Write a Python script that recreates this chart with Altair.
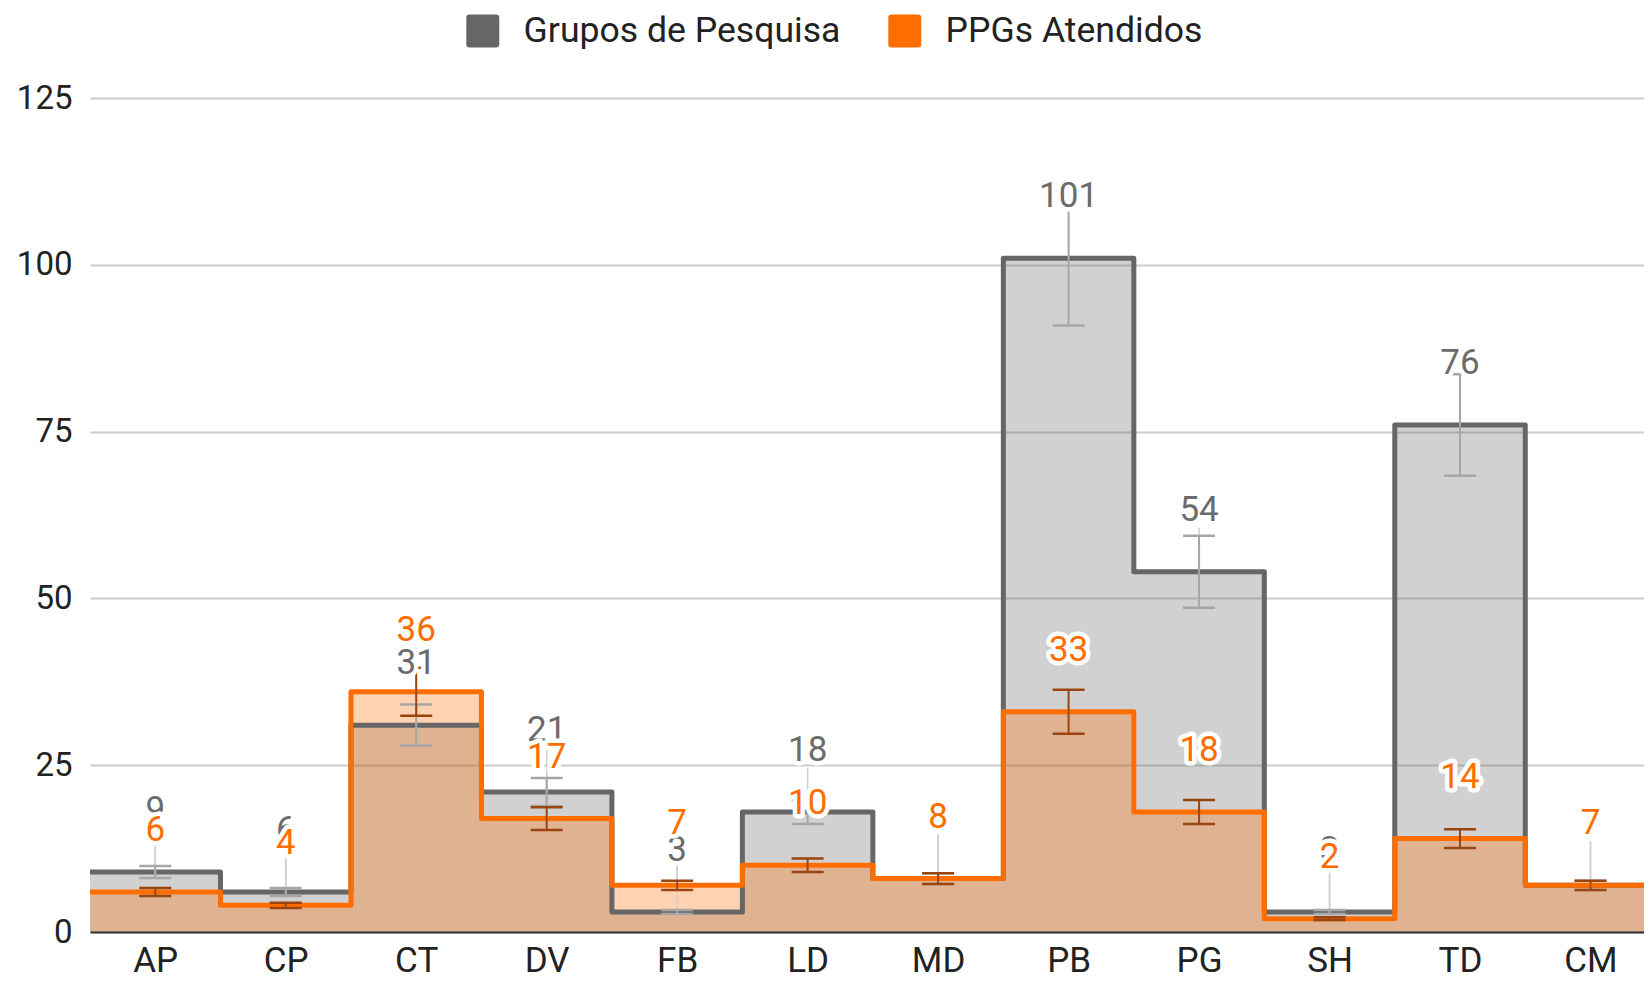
import json
import altair as alt
import pandas as pd

# ---- data ----
categories = ["AP", "CP", "CT", "DV", "FB", "LD", "MD", "PB", "PG", "SH", "TD", "CM"]
grupos = [9, 6, 31, 21, 3, 18, 8, 101, 54, 3, 76, 7]
grupos_low = [8.1, 5.4, 27.9, 18.9, 2.7, 16.2, 7.2, 90.9, 48.6, 2.7, 68.4, 6.3]
grupos_high = [9.9, 6.6, 34.1, 23.1, 3.3, 19.8, 8.8, 111.1, 59.4, 3.3, 83.6, 7.7]
ppgs = [6, 4, 36, 17, 7, 10, 8, 33, 18, 2, 14, 7]
ppgs_low = [5.4, 3.6, 32.4, 15.3, 6.3, 9.0, 7.2, 29.7, 16.2, 1.8, 12.6, 6.3]
ppgs_high = [6.6, 4.4, 39.6, 18.7, 7.7, 11.0, 8.8, 36.3, 19.8, 2.2, 15.4, 7.7]
series_names = ["Grupos de Pesquisa", "PPGs Atendidos"]
y_ticks = [0, 25, 50, 75, 100, 125]
x_visible_max = 11.91  # the last band is cut off at the right edge in the reference

GRAY = "#666666"
ORANGE = "#FF6D00"
FONT = "Roboto"
n = len(categories)

# per-category table (points at band centres)
cat_df = pd.DataFrame({
    "cat": categories,
    "xc": [i + 0.5 for i in range(n)],
    "gv": grupos, "glo": grupos_low, "ghi": grupos_high,
    "ov": ppgs, "olo": ppgs_low, "ohi": ppgs_high,
})

# step table (band edges, last value repeated at the right edge)
step_df = pd.DataFrame({
    "x": list(range(n + 1)),
    "gv": grupos + [grupos[-1]],
    "ov": ppgs + [ppgs[-1]],
})

x_scale = alt.Scale(domain=[0, x_visible_max], nice=False, zero=False)
y_scale = alt.Scale(domain=[0, 125], nice=False)

label_expr = json.dumps(categories) + "[floor(datum.value)]"
x_axis = alt.Axis(values=[i + 0.5 for i in range(n)], labelExpr=label_expr,
                  grid=False, ticks=False, domain=True, domainColor="#333333",
                  domainWidth=2, labelFontSize=35, labelFont=FONT, labelColor="#222222",
                  labelPadding=11, labelFlush=False, labelOverlap=False, title=None,
                  zindex=1)
y_axis = alt.Axis(values=y_ticks, grid=True, gridColor="#cccccc", gridWidth=2,
                  ticks=False, domain=False, labelFontSize=33, labelFont=FONT,
                  labelColor="#222222", labelPadding=18, title=None, zindex=0)


def X(field):
    return alt.X(field, type="quantitative", scale=x_scale, axis=x_axis)


def Y(field):
    return alt.Y(field, type="quantitative", scale=y_scale, axis=y_axis, stack=None)


step = alt.Chart(step_df)
cats = alt.Chart(cat_df)

gray_area = step.mark_area(interpolate="step-after", color=GRAY, fillOpacity=0.3,
                           clip=True).encode(x=X("x"), y=Y("gv"))
orange_area = step.mark_area(interpolate="step-after", color=ORANGE, fillOpacity=0.3,
                             clip=True).encode(x=X("x"), y=Y("ov"))
gray_line = step.mark_line(interpolate="step-after", color=GRAY, strokeWidth=5,
                           strokeJoin="round", clip=True).encode(x=X("x"), y=Y("gv"))
orange_line = step.mark_line(interpolate="step-after", color=ORANGE, strokeWidth=5,
                             strokeJoin="round", clip=True).encode(x=X("x"), y=Y("ov"))

# annotation stems
stems = []
for f in ["gv", "ov"]:
    stems.append(cats.mark_rule(color="#cfcfcf", strokeWidth=1.5, y2Offset=-44).encode(
        x=X("xc"), y=Y(f), y2=alt.Y2(f)))


def interval(lo, hi, color, width):
    v = cats.mark_rule(color=color, strokeWidth=width).encode(
        x=X("xc"), y=Y(lo), y2=alt.Y2(hi))
    w1 = cats.mark_rule(color=color, strokeWidth=2.5, xOffset=-16, x2Offset=16).encode(
        x=X("xc"), x2=alt.X2("xc"), y=Y(lo))
    w2 = cats.mark_rule(color=color, strokeWidth=2.5, xOffset=-16, x2Offset=16).encode(
        x=X("xc"), x2=alt.X2("xc"), y=Y(hi))
    return [v, w1, w2]


gray_int = interval("glo", "ghi", "#a6a6a6", 2)
orange_int = interval("olo", "ohi", "#9a4410", 2)


def labels(field, color):
    halo = cats.mark_text(dy=-51, baseline="alphabetic", fontSize=35, font=FONT,
                          color="white", stroke="white", strokeWidth=9,
                          strokeJoin="round").encode(
        x=X("xc"), y=Y(field), text=alt.Text(field, type="quantitative", format="d"))
    txt = cats.mark_text(dy=-51, baseline="alphabetic", fontSize=35, font=FONT,
                         color=color).encode(
        x=X("xc"), y=Y(field), text=alt.Text(field, type="quantitative", format="d"))
    return [halo, txt]


gray_lab = labels("gv", "#6b6b6b")
orange_lab = labels("ov", ORANGE)

rounded_sq = ("M-1,-0.8Q-1,-1,-0.8,-1L0.8,-1Q1,-1,1,-0.8L1,0.8Q1,1,0.8,1"
              "L-0.8,1Q-1,1,-1,0.8Z")
legend_layer = cats.transform_filter("false").mark_point(filled=True, opacity=1).encode(
    color=alt.Color("cat:N",
                    scale=alt.Scale(domain=series_names, range=[GRAY, ORANGE]),
                    legend=alt.Legend(orient="none", legendX=375, legendY=-85,
                                      direction="horizontal", title=None,
                                      symbolType=rounded_sq, symbolSize=1089,
                                      symbolStrokeWidth=0, symbolOpacity=1,
                                      labelFontSize=35.6, labelFont=FONT,
                                      labelColor="#222222", labelOffset=23,
                                      labelLimit=800, columnPadding=46, padding=0)))

chart = alt.layer(
    gray_area, orange_area, gray_line, orange_line,
    *stems, *gray_int, *orange_int, *gray_lab, *orange_lab, legend_layer,
).properties(
    width=1554, height=834,
    autosize=alt.AutoSizeParams(type="none"),
    padding={"left": 82, "top": 90, "right": 0, "bottom": 47},
    background="white",
).configure_view(stroke=None)

chart.save("out.html", embed_options={"renderer": "svg", "actions": False})
